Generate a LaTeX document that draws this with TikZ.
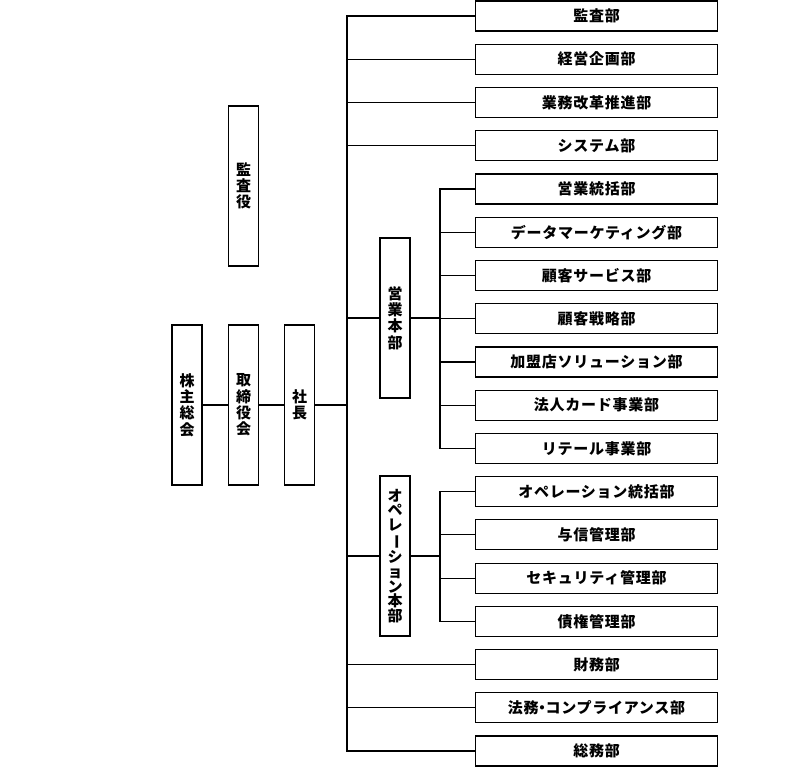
\documentclass[tikz,border=0pt]{standalone}
\usepackage{fontspec}
\usepackage{graphicx}
\newfontfamily\jp{Noto Sans CJK JP}[LetterSpace=5]
\usetikzlibrary{positioning}
\newcommand{\tatebar}{\rotatebox[origin=c]{-90}{ー}}

\begin{document}
\begin{tikzpicture}[x=1pt, y=-1pt, line width=1.2pt, node distance={43.24pt},
    dept/.style = {draw, minimum width=242pt, minimum height=30pt, inner sep=0pt, font=\jp\bfseries\fontsize{15}{16}\selectfont},
    tate/.style = {draw, minimum width=30pt, minimum height=160pt, inner sep=0pt, align=center, font=\jp\bfseries\fontsize{15}{16.3}\selectfont}]
    \useasboundingbox (0,0) rectangle (800,769);

    % left column
    \node[tate] (kabunushi)   at (187,405)   {株\\主\\総\\会};
    \node[tate] (torishimari) at (243.5,405) {取\\締\\役\\会};
    \node[tate] (shacho)      at (299.5,405) {社\\長};
    \node[tate] (kansayaku)   at (243.5,186) {監\\査\\役};
    \node[tate] (eigyo)       at (395,318)   {営\\業\\本\\部};
    \node[tate, font=\jp\bfseries\fontsize{15}{14.8}\selectfont] (ope) at (395,556)
        {オ\\ペ\\レ\\\tatebar\\シ\\ョ\\ン\\本\\部};

    % departments
    \node[dept] (kansabu)  at (596.5,16)    {監査部};
    \node[dept] (keiei)    [below of=kansabu]  {経営企画部};
    \node[dept] (kaikaku)  [below of=keiei]    {業務改革推進部};
    \node[dept] (system)   [below of=kaikaku]  {システム部};
    \node[dept] (tokatsu)  [below of=system]   {営業統括部};
    \node[dept] (data)     [below of=tokatsu]  {データマーケティング部};
    \node[dept] (service)  [below of=data]     {顧客サービス部};
    \node[dept] (senryaku) [below of=service]  {顧客戦略部};
    \node[dept] (kamei)    [below of=senryaku] {加盟店ソリューション部};
    \node[dept] (hojin)    [below of=kamei]    {法人カード事業部};
    \node[dept] (retail)   [below of=hojin]    {リテール事業部};
    \node[dept] (opetoku)  [below of=retail]   {オペレーション統括部};
    \node[dept] (yoshin)   [below of=opetoku]  {与信管理部};
    \node[dept] (security) [below of=yoshin]   {セキュリティ管理部};
    \node[dept] (saiken)   [below of=security] {債権管理部};
    \node[dept] (zaimu)    [below of=saiken]   {財務部};
    \node[dept] (homu)     [below of=zaimu]    {法務\kern-4pt・\kern-4pt コンプライアンス部};
    \node[dept] (somu)     [below of=homu]     {総務部};

    \coordinate (trunk)    at (347,405);
    \coordinate (eigyobus) at (440,318);
    \coordinate (opebus)   at (440,556);

    \draw (kabunushi) -- (torishimari);
    \draw (torishimari) -- (shacho);
    \draw (shacho) -- (trunk);

    \foreach \d in {kansabu, keiei, kaikaku, system, eigyo, ope, zaimu, homu, somu}
        \draw (trunk) |- (\d.west);

    \draw (eigyo) -- (eigyobus);
    \foreach \d in {tokatsu, data, service, senryaku, kamei, hojin, retail}
        \draw (eigyobus) |- (\d.west);

    \draw (ope) -- (opebus);
    \foreach \d in {opetoku, yoshin, security, saiken}
        \draw (opebus) |- (\d.west);
\end{tikzpicture}
\end{document}
